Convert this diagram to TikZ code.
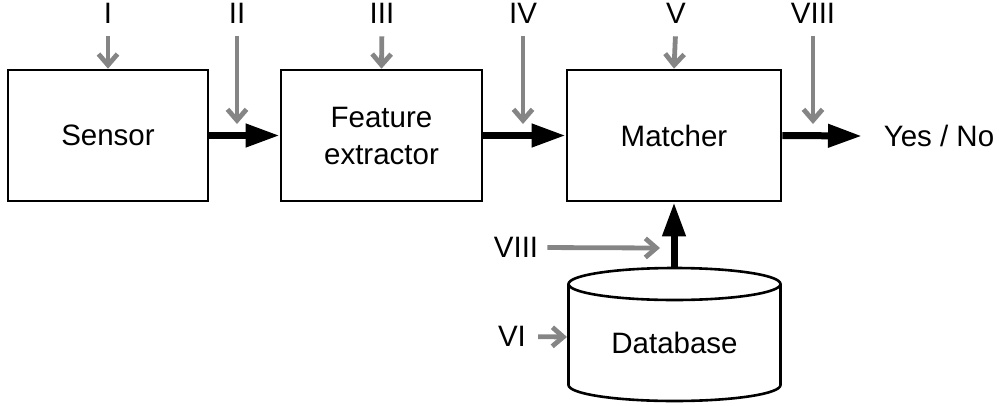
\documentclass[tikz,border=0pt]{standalone}
\usepackage{fontspec}
\setmainfont{Liberation Sans}
\usetikzlibrary{arrows.meta}
\definecolor{probegray}{HTML}{858585}
\newcommand\lbl{\fontsize{29.5}{37}\selectfont}
\begin{document}
\begin{tikzpicture}[x=1pt,y=-1pt,
  box/.style={draw, line width=2.6pt, minimum height=131pt, inner sep=0pt,
    align=center, font=\lbl},
  flow/.style={line width=7pt, -{Triangle[length=34pt,width=22pt]}},
  probe/.style={draw=probegray, line width=4.8pt,
    -{Straight Barb[length=11pt,width=19pt]}},
  tag/.style={font=\lbl, inner sep=0pt}]
\useasboundingbox (0,0) rectangle (999,405);

% processing blocks
\node[box, minimum width=200pt] (sensor) at (108,135.5) {Sensor};
\node[box, minimum width=201pt] (feat) at (381.5,135.5) {Feature\\extractor};
\node[box, minimum width=214pt] (match) at (674,135.5) {Matcher};

% database cylinder
\draw[line width=2.6pt, fill=white] (568.5,284) -- (568.5,385)
  arc[start angle=180, end angle=360, x radius=106pt, y radius=16pt]
  -- (780.5,284);
\draw[line width=2.6pt] (674.5,284) ellipse [x radius=106pt, y radius=16pt];
\node[tag] (db) at (674.5,343) {Database};
\coordinate (dbtop) at (674,268);
\coordinate (dbwest) at (567,337);

% output
\node[tag] (yn) at (939,136) {Yes / No};
\coordinate (out) at (862,136);

% main data flow
\draw[flow] (sensor.east) -- (feat.west);
\draw[flow] (feat.east) -- (match.west);
\draw[flow] (match.east) -- (out);
\draw[flow] (dbtop) -- (match.south);

% attack points
\node[tag] (p1) at (108,13) {I};
\node[tag] (p2) at (237,13) {II};
\node[tag] (p3) at (382,13) {III};
\node[tag] (p4) at (523,13) {IV};
\node[tag] (p5) at (676,13) {V};
\node[tag] (p8a) at (813,13) {VIII};
\node[tag] (p8b) at (516,247.5) {VIII};
\node[tag] (p6) at (512,336.5) {VI};

\coordinate (h2) at (237,124);
\coordinate (h4) at (523,124);
\coordinate (h8a) at (813,124);
\coordinate (h8b) at (660,248);

\draw[probe, shorten <=13pt] (p1.south) -- (sensor.north);
\draw[probe, shorten <=13pt] (p2.south) -- (h2);
\draw[probe, shorten <=13pt] (p3.south) -- (feat.north);
\draw[probe, shorten <=13pt] (p4.south) -- (h4);
\draw[probe, shorten <=13pt] (p5.south) -- (match.north);
\draw[probe, shorten <=13pt] (p8a.south) -- (h8a);
\draw[probe, shorten <=9pt] (p8b.east) -- (h8b);
\draw[probe, shorten <=12pt] (p6.east) -- (dbwest);
\end{tikzpicture}
\end{document}
